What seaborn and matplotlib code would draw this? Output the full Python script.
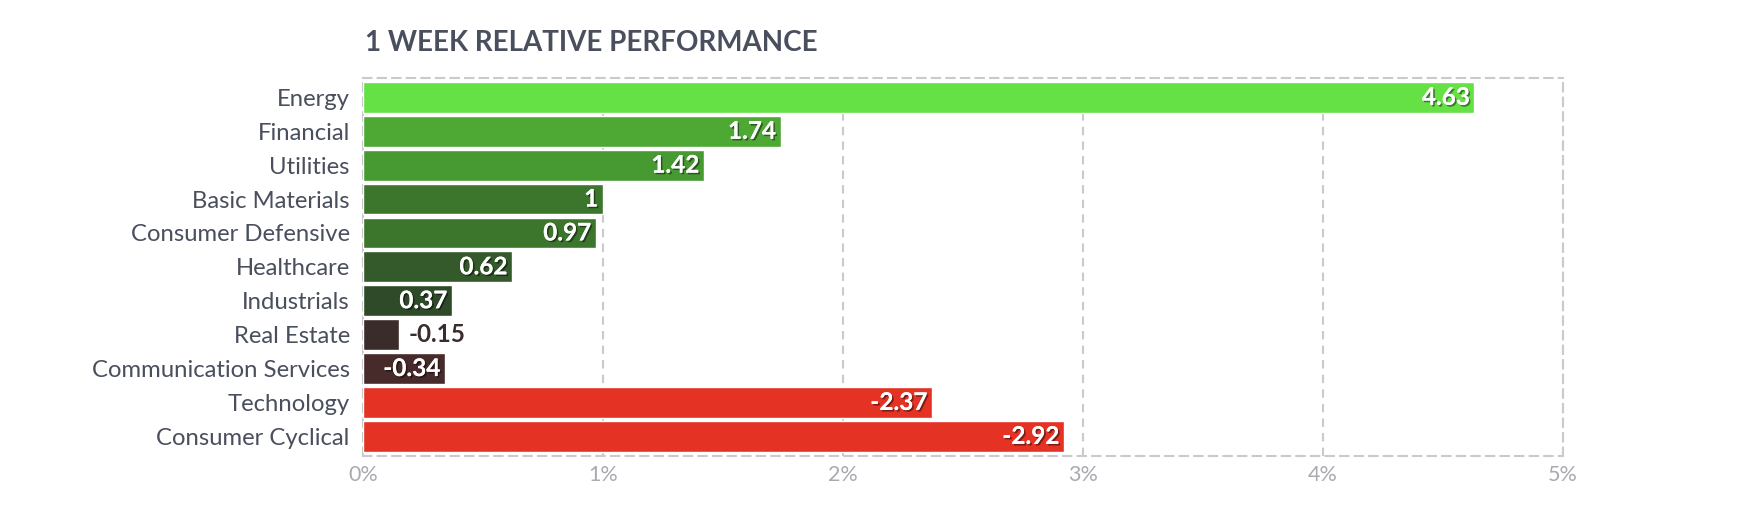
import numpy as np
import pandas as pd
import matplotlib
matplotlib.use("Agg")
import matplotlib.pyplot as plt
import matplotlib.ticker as mticker
import matplotlib.patheffects as pe
import seaborn as sns

# ── data ───────────────────────────────────────────────────────────────
sectors = ["Energy", "Financial", "Utilities", "Basic Materials",
           "Consumer Defensive", "Healthcare", "Industrials", "Real Estate",
           "Communication Services", "Technology", "Consumer Cyclical"]
perf = [4.63, 1.74, 1.42, 1.00, 0.97, 0.62, 0.37, -0.15, -0.34, -2.37, -2.92]
bar_colors = ["#66E145", "#4EA934", "#479A31", "#3C752C", "#3C752C",
              "#34592A", "#2F4A29", "#3A2C2B", "#472A2A", "#E43324", "#E43324"]
x_ticks = [0, 1, 2, 3, 4, 5]

sns.set_theme(style="white")
plt.rcParams["font.family"] = ["Lato", "DejaVu Sans"]

TEXT = "#4A4F5E"
GRID = "#C9C9CE"

df = pd.DataFrame({"sector": sectors, "perf": perf})
df["size"] = df["perf"].abs()

fig = plt.figure(figsize=(17.48, 5.30), dpi=100)
ax = fig.add_axes([0.2077, 0.1396, 0.8942 - 0.2077, 0.8534 - 0.1396])

sns.barplot(data=df, x="size", y="sector", hue="sector", palette=bar_colors,
            orient="h", width=0.91, legend=False, ax=ax, zorder=3,
            saturation=1)

ax.set_xlim(0, 5)
ax.set_ylim(len(sectors) - 0.42, -0.58)
ax.set_xticks(x_ticks)
ax.xaxis.set_major_formatter(mticker.FuncFormatter(lambda v, p: f"{int(v)}%"))
ax.set_xlabel("")
ax.set_ylabel("")

# dashed grid + frame
for xv in x_ticks[1:]:
    ax.axvline(xv, color=GRID, lw=1.5, ls=(0, (4, 3)), zorder=1)
for side in ["top", "bottom", "right", "left"]:
    ax.spines[side].set_visible(True)
    ax.spines[side].set_color(GRID)
    ax.spines[side].set_linewidth(1.5)
    ax.spines[side].set_linestyle((0, (4, 3)))

ax.tick_params(axis="y", length=0, pad=9.5, labelsize=17.2, labelcolor=TEXT)
ax.tick_params(axis="x", length=0, pad=6.5, labelsize=15.5, labelcolor="#A9A9B1")

# value labels
shadow = [pe.withSimplePatchShadow(offset=(1.2, -1.2), shadow_rgbFace="black", alpha=0.45),
          pe.Normal()]
for i, (v, c) in enumerate(zip(perf, bar_colors)):
    lab = f"{v:g}"
    w = abs(v)
    if w < 0.25:
        ax.text(w + 0.04, i, lab, ha="left", va="center", fontsize=17.5,
                fontweight="bold", color=c, zorder=5)
    else:
        ax.text(w - 0.02, i, lab, ha="right", va="center", fontsize=17.5,
                fontweight="bold", color="white", zorder=5, path_effects=shadow)

fig.text(365 / 1748, 1 - 51 / 530, "1 WEEK RELATIVE PERFORMANCE", ha="left",
         va="baseline", fontsize=20, fontweight="bold", color=TEXT)

fig.savefig("out.png", dpi=100)
